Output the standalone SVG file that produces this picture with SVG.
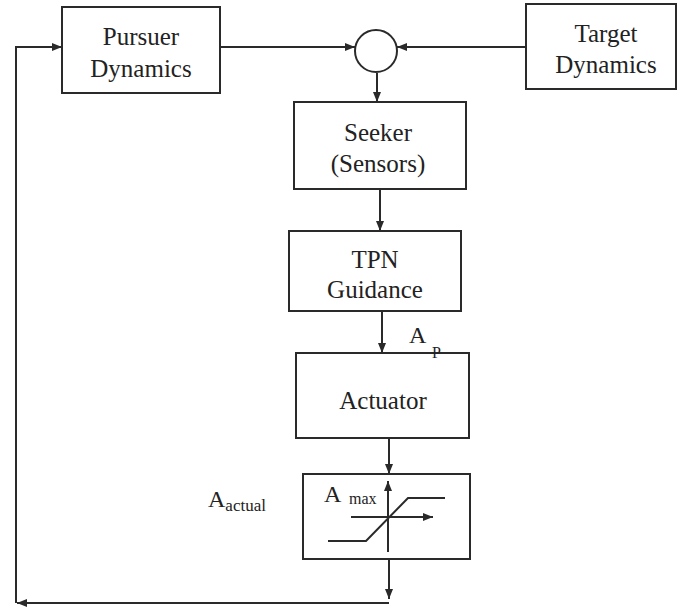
<svg xmlns="http://www.w3.org/2000/svg" width="677" height="611" viewBox="0 0 677 611">
<defs>
<marker id="ah" viewBox="0 0 10 8" refX="10" refY="4" markerWidth="10" markerHeight="8" markerUnits="userSpaceOnUse" orient="auto">
<path d="M0,0 L10,4 L0,8 z" fill="#2a2a2a"/>
</marker>
</defs>
<style>
.box{fill:#fff;stroke:#2a2a2a;stroke-width:2}
.ln{fill:none;stroke:#2a2a2a;stroke-width:2}
text{font-family:Liberation Serif, DejaVu Serif, serif}
.t{font-size:25px;fill:#222;text-anchor:middle}
.lab{fill:#222}
</style>
<rect width="677" height="611" fill="#fff"/>
<g id="connectors">
<path class="ln" d="M389,559 V599" marker-end="url(#ah)"/>
<path class="ln" d="M389,603 H17" marker-end="url(#ah)"/>
<path class="ln" d="M16,603 V47 H62" marker-end="url(#ah)"/>
<path class="ln" d="M220,47 H355" marker-end="url(#ah)"/>
<path class="ln" d="M526,47 H397" marker-end="url(#ah)"/>
<path class="ln" d="M377,73 V102" marker-end="url(#ah)"/>
<path class="ln" d="M380,189 V231" marker-end="url(#ah)"/>
<path class="ln" d="M382,311 V353" marker-end="url(#ah)"/>
<path class="ln" d="M389,438 V474" marker-end="url(#ah)"/>
</g>
<g id="pursuer">
<rect class="box" x="62" y="7" width="158" height="86"/>
<text class="t" x="141" y="45">Pursuer</text>
<text class="t" x="141" y="77">Dynamics</text>
</g>
<g id="sum">
<circle class="box" cx="376" cy="51" r="21"/>
</g>
<g id="target">
<rect class="box" x="526" y="4" width="150" height="85"/>
<text class="t" x="606" y="42">Target</text>
<text class="t" x="606" y="73">Dynamics</text>
</g>
<g id="seeker">
<rect class="box" x="294" y="102" width="172" height="87"/>
<text class="t" x="378" y="141">Seeker</text>
<text class="t" x="378" y="172">(Sensors)</text>
</g>
<g id="tpn">
<rect class="box" x="289" y="231" width="172" height="80"/>
<text class="t" x="375" y="268">TPN</text>
<text class="t" x="375" y="298">Guidance</text>
</g>
<g id="actuator">
<rect class="box" x="296" y="353" width="173" height="85"/>
<text class="t" x="383" y="409">Actuator</text>
</g>
<g id="ap-label">
<text class="lab" x="409" y="343" font-size="24">A</text>
<text class="lab" x="432" y="358" font-size="16">P</text>
</g>
<g id="saturation">
<rect class="box" x="303" y="474" width="167" height="85"/>
<path class="ln" d="M388,552 V481" marker-end="url(#ah)"/>
<path class="ln" d="M351,517 H433" marker-end="url(#ah)"/>
<polyline class="ln" points="328,541 366,541 408,498 445,498"/>
<text class="lab" x="324" y="502" font-size="24">A</text>
<text class="lab" x="349" y="504" font-size="16">max</text>
</g>
<g id="aactual-label">
<text class="lab" x="208" y="507" font-size="24">A<tspan font-size="17" dy="4">actual</tspan></text>
</g>
</svg>
